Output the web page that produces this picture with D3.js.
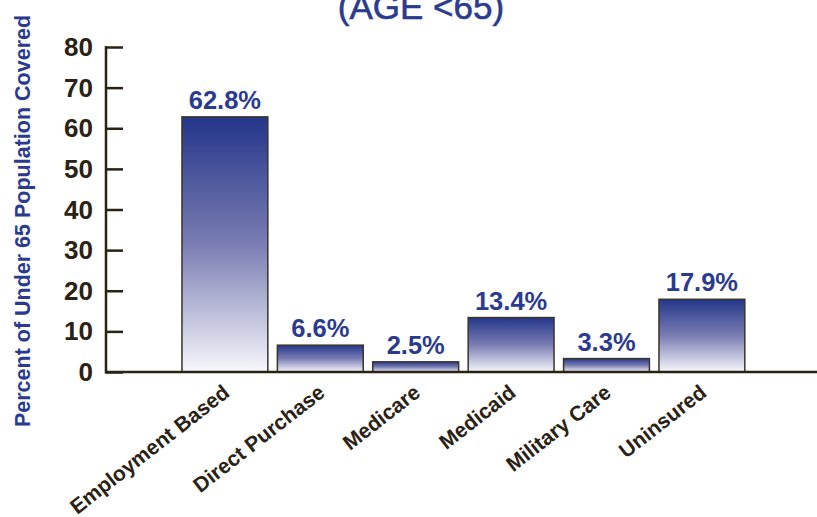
<!DOCTYPE html>
<html><head><meta charset="utf-8">
<script src="https://cdn.jsdelivr.net/npm/d3@7"></script>
<style>body{margin:0;background:#fff;} svg{display:block;}</style>
</head><body>
<svg id="c" width="817" height="517"></svg>
<script>
const categories = ["Employment Based","Direct Purchase","Medicare","Medicaid","Military Care","Uninsured"];
const values = [62.8, 6.6, 2.5, 13.4, 3.3, 17.9];
const valueLabels = ["62.8%","6.6%","2.5%","13.4%","3.3%","17.9%"];
const yTicks = [0,10,20,30,40,50,60,70,80];
const title = "(AGE <65)";
const yTitle = "Percent of Under 65 Population Covered";

const svg = d3.select("#c");
const blue = "#2a3b8f", dark = "#2a2214";
const defs = svg.append("defs");
const g = defs.append("linearGradient").attr("id","barGrad").attr("x1",0).attr("y1",0).attr("x2",0).attr("y2",1);
g.append("stop").attr("offset","0%").attr("stop-color","#24368a");
g.append("stop").attr("offset","50%").attr("stop-color","#7a7db3");
g.append("stop").attr("offset","100%").attr("stop-color","#f7f7fc");

const y = d3.scaleLinear().domain([0,80]).range([372,47]);
const x = d3.scaleBand().domain(categories).range([177.2,749.6]).paddingInner(0.1).paddingOuter(0.05);
const axisX = 106;

svg.append("text").attr("x",421).attr("y",19).attr("text-anchor","middle")
  .attr("font-family","Liberation Sans, Arial, sans-serif").attr("font-size",35).attr("fill",blue)
  .attr("stroke",blue).attr("stroke-width",0.6).text(title);

svg.append("text").attr("transform","translate(30,221) rotate(-90)").attr("text-anchor","middle")
  .attr("font-family","Liberation Sans, Arial, sans-serif").attr("font-weight","bold").attr("font-size",21.5)
  .attr("fill",blue).text(yTitle);

// bars
svg.selectAll("rect.bar").data(values).join("rect").attr("class","bar")
  .attr("x",(d,i)=>x(categories[i])).attr("width",x.bandwidth())
  .attr("y",d=>y(d)).attr("height",d=>y(0)-y(d))
  .attr("fill","url(#barGrad)").attr("stroke","#3a3428").attr("stroke-width",1.5);

svg.selectAll("text.val").data(values).join("text").attr("class","val")
  .attr("x",(d,i)=>x(categories[i])+x.bandwidth()/2).attr("y",d=>y(d)-8)
  .attr("text-anchor","middle").attr("font-family","Liberation Sans, Arial, sans-serif")
  .attr("font-weight","bold").attr("font-size",25.5).attr("fill",blue)
  .text((d,i)=>valueLabels[i]);

// y axis
const yAxis = d3.axisRight(y).tickValues(yTicks).tickSize(17).tickFormat("");
const ya = svg.append("g").attr("transform",`translate(${axisX},0)`).call(yAxis);
ya.select(".domain").remove();
ya.selectAll(".tick line").attr("stroke",dark).attr("stroke-width",2.5);
svg.append("line").attr("x1",axisX).attr("x2",axisX).attr("y1",y(80)-1).attr("y2",y(0)+1.5)
  .attr("stroke",dark).attr("stroke-width",2.5);
svg.selectAll("text.yt").data(yTicks).join("text").attr("class","yt")
  .attr("x",93).attr("y",d=>y(d)+9).attr("text-anchor","end")
  .attr("font-family","Liberation Sans, Arial, sans-serif").attr("font-weight","bold").attr("font-size",26)
  .attr("fill",dark).text(d=>d);

// x axis line
svg.append("line").attr("x1",axisX-1).attr("x2",817).attr("y1",y(0)).attr("y2",y(0))
  .attr("stroke",dark).attr("stroke-width",2.5);

// category labels
svg.selectAll("text.cat").data(categories).join("text").attr("class","cat")
  .attr("transform",d=>`translate(${x(d)+x.bandwidth()/2+6},${y(0)+23}) rotate(-38)`)
  .attr("text-anchor","end").attr("font-family","Liberation Sans, Arial, sans-serif")
  .attr("font-weight","bold").attr("font-size",21).attr("fill",dark).text(d=>d);
</script>
</body></html>
